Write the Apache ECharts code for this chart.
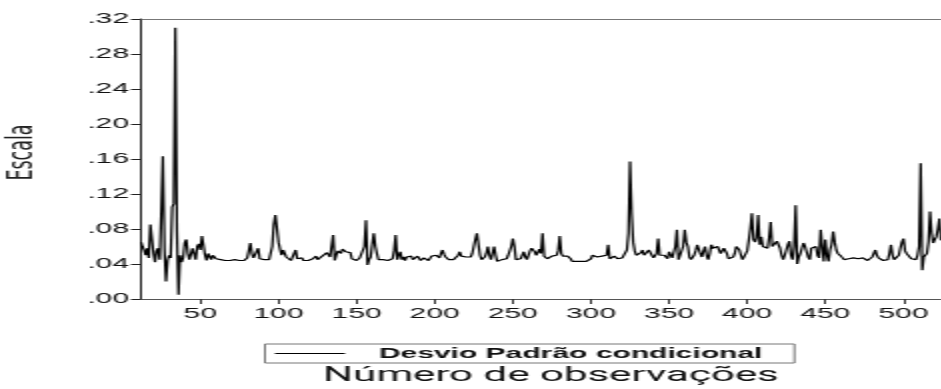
<!DOCTYPE html>
<html>

<head>
    <meta charset="utf-8" />
    <title>Desvio Padrão condicional</title>
    <script src="https://cdn.jsdelivr.net/npm/echarts@6.0.0/dist/echarts.min.js"></script>
    <style>
        html, body { margin: 0; padding: 0; background: #fff; overflow: hidden; }
        /* the source picture is an export stretched about 2x sideways,
           so the chart is drawn at half width and stretched the same way */
        #main { width: 471px; height: 389px; transform: scaleX(2); transform-origin: 0 0; }
    </style>
</head>

<body>
    <div id="main"></div>
    <script type="text/javascript">
        var legendName = 'Desvio Padrão condicional';
        var yName = 'Escala';
        var xName = 'Número de observações';
        var firstObs = 12;

        // conditional standard deviation, one value per observation (12 .. 524)
        var desvio = [
            0.065, 0.060, 0.056, 0.050, 0.058, 0.047, 0.085, 0.087,
            0.052, 0.042, 0.055, 0.058, 0.045, 0.100, 0.163, 0.058, 0.020, 0.044,
            0.050, 0.047, 0.105, 0.109, 0.310, 0.078, 0.005, 0.050, 0.042, 0.047,
            0.064, 0.068, 0.052, 0.045, 0.047, 0.058, 0.060, 0.045, 0.060, 0.063,
            0.056, 0.072, 0.074, 0.050, 0.044, 0.052, 0.050, 0.045, 0.050, 0.048,
            0.046, 0.048, 0.046, 0.045, 0.047, 0.045, 0.044, 0.044, 0.045, 0.044,
            0.044, 0.044, 0.045, 0.044, 0.044, 0.044, 0.045, 0.044, 0.044, 0.045,
            0.047, 0.055, 0.064, 0.052, 0.047, 0.046, 0.049, 0.058, 0.046, 0.045,
            0.044, 0.045, 0.044, 0.043, 0.045, 0.044, 0.060, 0.085, 0.096, 0.081,
            0.065, 0.057, 0.050, 0.056, 0.052, 0.048, 0.046, 0.047, 0.044, 0.045,
            0.052, 0.056, 0.046, 0.044, 0.048, 0.047, 0.044, 0.045, 0.044, 0.044,
            0.044, 0.045, 0.046, 0.048, 0.049, 0.045, 0.044, 0.046, 0.049, 0.047,
            0.050, 0.053, 0.055, 0.048, 0.050, 0.073, 0.044, 0.050, 0.055, 0.054,
            0.052, 0.057, 0.056, 0.054, 0.055, 0.056, 0.053, 0.046, 0.044, 0.045,
            0.044, 0.046, 0.047, 0.048, 0.046, 0.060, 0.090, 0.039, 0.045, 0.048,
            0.062, 0.075, 0.060, 0.052, 0.045, 0.044, 0.044, 0.045, 0.044, 0.044,
            0.044, 0.045, 0.044, 0.046, 0.055, 0.073, 0.045, 0.050, 0.054, 0.045,
            0.048, 0.044, 0.048, 0.046, 0.047, 0.049, 0.045, 0.044, 0.046, 0.049,
            0.047, 0.044, 0.045, 0.047, 0.049, 0.046, 0.044, 0.046, 0.049, 0.050,
            0.049, 0.050, 0.048, 0.047, 0.052, 0.056, 0.051, 0.048, 0.046, 0.045,
            0.045, 0.044, 0.045, 0.045, 0.046, 0.050, 0.054, 0.049, 0.048, 0.047,
            0.048, 0.047, 0.048, 0.048, 0.052, 0.060, 0.068, 0.075, 0.062, 0.050,
            0.045, 0.046, 0.048, 0.052, 0.060, 0.050, 0.045, 0.052, 0.060, 0.050,
            0.043, 0.045, 0.045, 0.045, 0.045, 0.045, 0.046, 0.050, 0.055, 0.060,
            0.069, 0.060, 0.045, 0.046, 0.046, 0.046, 0.048, 0.054, 0.048, 0.045,
            0.045, 0.055, 0.058, 0.057, 0.054, 0.050, 0.048, 0.057, 0.052, 0.075,
            0.049, 0.047, 0.046, 0.047, 0.048, 0.049, 0.049, 0.050, 0.050, 0.055,
            0.072, 0.052, 0.049, 0.050, 0.050, 0.049, 0.049, 0.046, 0.043, 0.043,
            0.043, 0.043, 0.043, 0.043, 0.043, 0.043, 0.043, 0.043, 0.043, 0.044,
            0.046, 0.050, 0.049, 0.051, 0.048, 0.047, 0.047, 0.049, 0.049, 0.048,
            0.050, 0.062, 0.046, 0.045, 0.048, 0.049, 0.047, 0.046, 0.047, 0.047,
            0.047, 0.047, 0.047, 0.056, 0.075, 0.157, 0.098, 0.065, 0.055, 0.050,
            0.052, 0.050, 0.053, 0.056, 0.050, 0.052, 0.050, 0.056, 0.054, 0.050,
            0.047, 0.045, 0.052, 0.069, 0.050, 0.049, 0.050, 0.050, 0.048, 0.046,
            0.054, 0.052, 0.047, 0.046, 0.060, 0.079, 0.045, 0.047, 0.046, 0.060,
            0.079, 0.065, 0.060, 0.048, 0.045, 0.047, 0.050, 0.055, 0.062, 0.060,
            0.052, 0.048, 0.055, 0.060, 0.050, 0.045, 0.052, 0.062, 0.058, 0.056,
            0.058, 0.060, 0.056, 0.052, 0.054, 0.058, 0.060, 0.052, 0.046, 0.045,
            0.047, 0.048, 0.052, 0.060, 0.058, 0.056, 0.050, 0.045, 0.044, 0.045,
            0.055, 0.067, 0.080, 0.098, 0.068, 0.065, 0.070, 0.096, 0.062, 0.071,
            0.060, 0.058, 0.062, 0.058, 0.070, 0.088, 0.060, 0.058, 0.062, 0.066,
            0.064, 0.058, 0.050, 0.045, 0.050, 0.056, 0.062, 0.066, 0.050, 0.045,
            0.060, 0.107, 0.040, 0.048, 0.052, 0.058, 0.064, 0.060, 0.054, 0.048,
            0.045, 0.058, 0.060, 0.058, 0.060, 0.050, 0.047, 0.079, 0.060, 0.043,
            0.068, 0.050, 0.043, 0.056, 0.062, 0.077, 0.065, 0.056, 0.052, 0.050,
            0.049, 0.048, 0.045, 0.046, 0.047, 0.046, 0.045, 0.046, 0.047, 0.046,
            0.048, 0.046, 0.045, 0.046, 0.047, 0.046, 0.045, 0.044, 0.044, 0.043,
            0.048, 0.052, 0.056, 0.050, 0.047, 0.045, 0.045, 0.044, 0.043, 0.043,
            0.045, 0.052, 0.062, 0.050, 0.045, 0.043, 0.043, 0.050, 0.058, 0.065,
            0.069, 0.055, 0.052, 0.050, 0.050, 0.046, 0.045, 0.044, 0.045, 0.050,
            0.060, 0.155, 0.033, 0.048, 0.050, 0.052, 0.065, 0.100, 0.075, 0.064,
            0.068, 0.071, 0.080, 0.092, 0.067
        ];

        // observation numbers used as categories
        var obs = desvio.map(function (v, i) { return String(firstObs + i); });

        // ticks and labels only on multiples of 50
        var every50 = function (index, value) { return Number(value) % 50 === 0; };

        var labelFont = 'Liberation Sans, Arial, sans-serif';

        var myChart = echarts.init(document.getElementById('main'));
        myChart.setOption({
            animation: false,
            backgroundColor: '#fff',
            grid: { left: 70.5, right: 0.5, top: 19, bottom: 90, outerBoundsMode: 'none' },
            legend: {
                left: 132.5,
                top: 344,
                padding: [2, 16, 2, 5],
                icon: 'rect',
                itemWidth: 35,
                itemHeight: 1,
                itemStyle: { color: '#000' },
                borderColor: '#777',
                borderWidth: 1,
                textStyle: {
                    fontFamily: labelFont,
                    fontWeight: 'bold',
                    fontSize: 15,
                    color: '#111',
                    padding: [0, 0, 0, 12]
                }
            },
            xAxis: [{
                type: 'category',
                data: obs,
                boundaryGap: false,
                name: xName,
                nameLocation: 'middle',
                nameGap: 66,
                nameTextStyle: { fontFamily: 'Roboto', fontSize: 21, color: '#111', padding: [0, 0, 0, 10] },
                axisLine: { lineStyle: { color: '#555', width: 1 } },
                axisTick: { length: 5, interval: every50, lineStyle: { color: '#333' } },
                axisLabel: { interval: every50, margin: 7, fontFamily: labelFont, fontSize: 15, color: '#111' },
                splitLine: { show: false }
            }, {
                // top frame line
                type: 'category',
                data: obs,
                boundaryGap: false,
                position: 'top',
                axisLine: { lineStyle: { color: '#777' } },
                axisTick: { show: false },
                axisLabel: { show: false },
                splitLine: { show: false }
            }],
            yAxis: {
                type: 'value',
                min: 0,
                max: 0.32,
                interval: 0.04,
                name: yName,
                nameLocation: 'middle',
                nameRotate: 90,
                nameGap: 50,
                nameTextStyle: { fontFamily: 'DejaVu Sans', fontSize: 17.5, color: '#222', padding: [0, 0, 0, 13] },
                axisLine: { show: true, lineStyle: { color: '#222' } },
                axisTick: { show: true, length: 5, lineStyle: { color: '#222' } },
                axisLabel: {
                    margin: 6,
                    fontFamily: labelFont,
                    fontSize: 15,
                    color: '#111',
                    formatter: function (v) { return v.toFixed(2).replace(/^0/, ''); }
                },
                splitLine: { show: false }
            },
            series: [{
                name: legendName,
                type: 'line',
                data: desvio,
                symbol: 'none',
                lineStyle: { color: '#000', width: 1.2 },
                itemStyle: { color: '#000' }
            }]
        });
    </script>
</body>

</html>
